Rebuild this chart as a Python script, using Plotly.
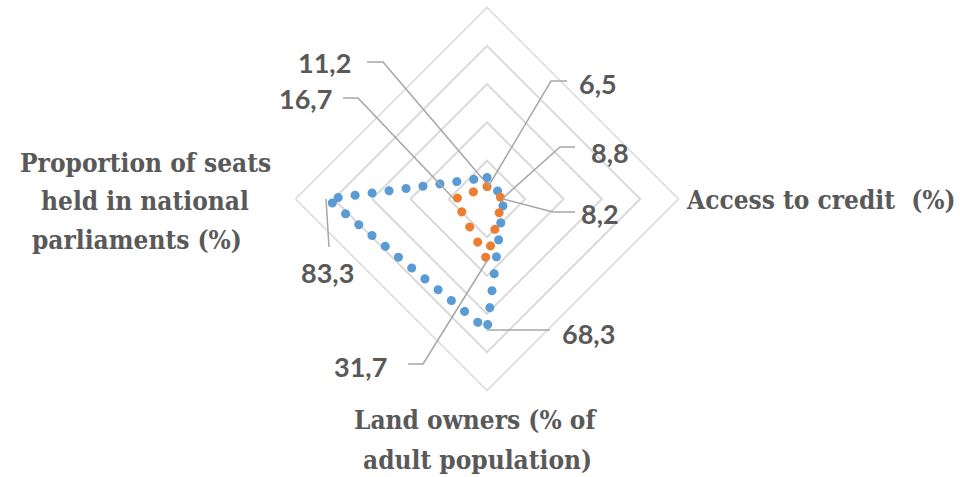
import plotly.graph_objects as go

# ---- data ----
categories = [" ", "Access to credit  (%)", "Land owners (% of adult population)",
              "Proportion of seats held in national parliaments (%)"]
series_a_name = "Series 1"
series_a = [11.2, 8.8, 68.3, 83.3]   # blue
series_b_name = "Series 2"
series_b = [6.5, 8.2, 31.7, 16.7]    # orange

value_labels = ["11,2", "16,7", "6,5", "8,8", "8,2", "83,3", "68,3", "31,7"]

W, H = 960, 477
def px(x):
    return x / W
def py(y):
    return 1 - y / H

fig = go.Figure()
for name, vals, col in [(series_a_name, series_a, "#5B9BD5"), (series_b_name, series_b, "#ED7D31")]:
    fig.add_trace(go.Scatterpolar(
        r=vals + vals[:1], theta=categories + categories[:1], mode="lines", name=name,
        line=dict(color=col, width=9, dash="1px,16px"), showlegend=False,
        hoverinfo="skip"))

grid = "#d9d9d9"
fig.update_layout(
    width=W, height=H, margin=dict(l=0, r=0, t=0, b=0),
    paper_bgcolor="white", plot_bgcolor="white",
    polar=dict(
        domain=dict(x=[px(295.5), px(678.5)], y=[py(390.5), py(7.5)]),
        bgcolor="white", gridshape="linear",
        radialaxis=dict(range=[0, 100], dtick=20, showticklabels=False, ticks="",
                        showline=False, gridcolor=grid, gridwidth=1.5),
        angularaxis=dict(rotation=90, direction="clockwise", showticklabels=False,
                         ticks="", showgrid=False, showline=True,
                         linecolor=grid, linewidth=1.5),
    ),
)

cat_font = dict(family="DejaVu Serif Condensed, DejaVu Serif", size=26, color="#595959", weight="bold")
cat_labels = [
    (821, 200, "Access to credit  (%)"),
    (145, 163, "Proportion of seats"),
    (145, 201, "held in national"),
    (137, 240, "parliaments (%)"),
    (475, 420, "Land owners (% of"),
    (477, 460, "adult population)"),
]
for x, y, t in cat_labels:
    fig.add_annotation(x=px(x), y=py(y), xref="paper", yref="paper", text=t, showarrow=False,
                       font=cat_font, align="center", xanchor="center", yanchor="middle")

val_font = dict(family="Lato", size=27, color="#595959", weight="bold")
val_pos = [(324, 62), (305, 98), (598, 84), (610, 152), (600, 213), (327, 272), (588, 333), (360, 366)]
for (x, y), t in zip(val_pos, value_labels):
    fig.add_annotation(x=px(x), y=py(y), xref="paper", yref="paper", text=t, showarrow=False,
                       font=val_font, xanchor="center", yanchor="middle")

leaders = [
    [(367, 62), (383, 62), (487, 184)],
    [(343, 98), (358, 98), (453, 198)],
    [(567, 81), (551, 81), (488, 187)],
    [(575, 147), (560, 147), (503, 198)],
    [(575, 212), (553, 212), (503, 199)],
    [(329, 247), (326, 199)],
    [(550, 330), (487, 330)],
    [(408, 364), (423, 364), (487, 261)],
]
for pts in leaders:
    path = "M " + " L ".join(f"{px(x)},{py(y)}" for x, y in pts)
    fig.add_shape(type="path", path=path, xref="paper", yref="paper",
                  line=dict(color="#a6a6a6", width=1.5))

round_dots = """
document.querySelectorAll('.scatterlayer path.js-line').forEach(function(p){
  p.style.strokeLinecap = 'round';
  p.style.strokeDasharray = '0.1px,17px';
});
"""
fig.write_html("out.html", post_script=round_dots)
